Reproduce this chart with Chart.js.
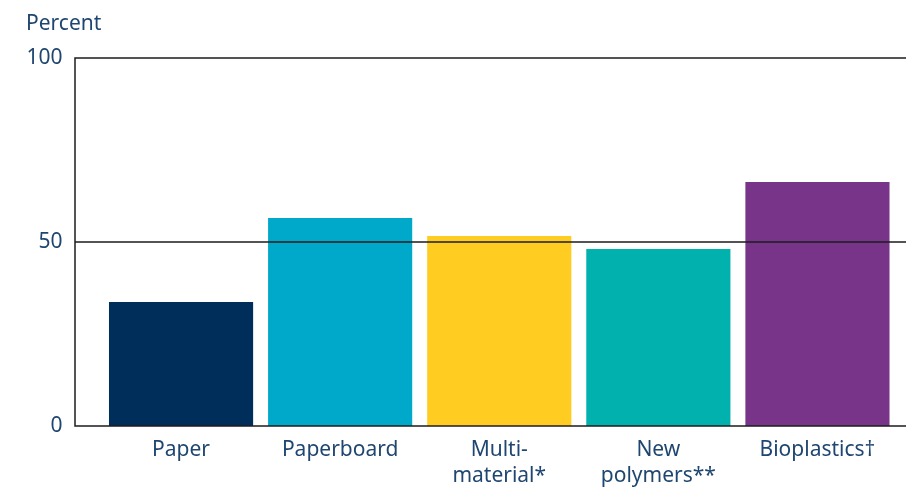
<!DOCTYPE html>
<html>
<head>
<meta charset="utf-8">
<script src="https://cdn.jsdelivr.net/npm/chart.js@4/dist/chart.umd.min.js"></script>
<style>
  html, body { margin: 0; padding: 0; background: #fff; }
  #wrap { width: 906px; height: 487px; }
</style>
</head>
<body>
<div id="wrap"><canvas id="chart"></canvas></div>
<script>
const categories = ['Paper', 'Paperboard', ['Multi-', 'material*'], ['New', 'polymers**'], 'Bioplastics\u2020'];
const shares = [33.7, 56.5, 51.6, 48.1, 66.3];
const barColors = ['#002e5a', '#00a8ca', '#ffcd21', '#00b1ae', '#773488'];
const yTicks = [0, 50, 100];
const yTitle = 'Percent';

const textColor = '#1f4670';
const fontFamily = '"Noto Sans", sans-serif';
const fontSize = 21;

// frame lines and the 50% reference line, drawn over the bars
const framePlugin = {
  id: 'frame',
  afterDatasetsDraw(chart) {
    const ctx = chart.ctx;
    const y = chart.scales.y;
    const left = 75;
    const right = chart.width;
    const top = y.getPixelForValue(100);
    const bottom = y.getPixelForValue(0);
    const mid = y.getPixelForValue(50);
    ctx.save();
    ctx.strokeStyle = '#1c1c1c';
    ctx.lineWidth = 1.5;
    ctx.beginPath();
    ctx.moveTo(right, top);
    ctx.lineTo(left, top);
    ctx.lineTo(left, bottom);
    ctx.lineTo(right, bottom);
    ctx.moveTo(left, mid);
    ctx.lineTo(right, mid);
    ctx.stroke();

    ctx.fillStyle = textColor;
    ctx.font = fontSize + 'px ' + fontFamily;
    ctx.textBaseline = 'middle';
    ctx.textAlign = 'left';
    ctx.fillText(yTitle, 26, 24);
    ctx.restore();
  }
};

new Chart(document.getElementById('chart'), {
  type: 'bar',
  data: {
    labels: categories,
    datasets: [{
      data: shares,
      backgroundColor: barColors,
      borderWidth: 0,
      barPercentage: 0.906,
      categoryPercentage: 1
    }]
  },
  options: {
    responsive: true,
    maintainAspectRatio: false,
    animation: false,
    layout: { padding: { top: 58, right: 9, bottom: 0, left: 0 } },
    plugins: {
      legend: { display: false },
      tooltip: { enabled: false }
    },
    scales: {
      x: {
        grid: { display: false },
        border: { display: false },
        ticks: {
          color: textColor,
          font: { family: fontFamily, size: fontSize, lineHeight: 1.25 },
          padding: 3,
          maxRotation: 0,
          autoSkip: false
        },
        afterFit(scale) { scale.height = 61; }
      },
      y: {
        min: 0,
        max: 100,
        afterBuildTicks(scale) { scale.ticks = yTicks.map(v => ({ value: v })); },
        grid: { display: false, drawTicks: false },
        border: { display: false },
        ticks: {
          color: textColor,
          font: { family: fontFamily, size: fontSize },
          padding: 39
        },
        afterFit(scale) { scale.width = 101.5; }
      }
    }
  },
  plugins: [framePlugin]
});
</script>
</body>
</html>
